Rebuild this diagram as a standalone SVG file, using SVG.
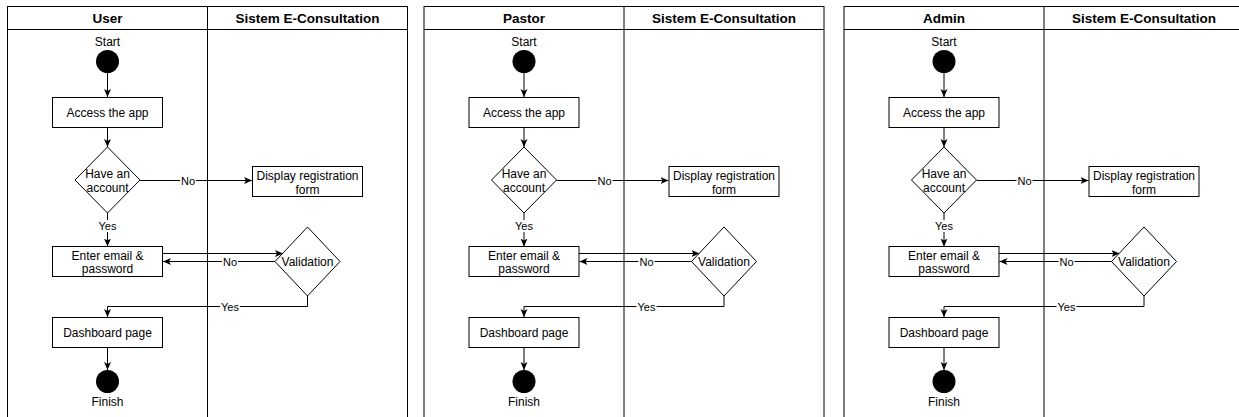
<svg xmlns="http://www.w3.org/2000/svg" width="1239" height="417" viewBox="0 0 1239 417">
<style>
.lane{fill:none;stroke:#000;stroke-width:1}
.box{fill:#fff;stroke:#000;stroke-width:1}
.dot{fill:#000;stroke:none}
.hd{font-family:"Liberation Sans",Arial,sans-serif;font-size:13.5px;font-weight:bold;fill:#000;text-anchor:middle}
.t{font-family:"Liberation Sans",Arial,sans-serif;font-size:12px;fill:#000;text-anchor:middle}
.lb{font-family:"Liberation Sans",Arial,sans-serif;font-size:11px;fill:#000;text-anchor:middle}
.e{fill:none;stroke:#000;stroke-width:1;marker-end:url(#arr)}
.bg{fill:#fff;stroke:none}
</style>
<defs>
<marker id="arr" markerUnits="userSpaceOnUse" markerWidth="10" markerHeight="10" refX="8" refY="4" orient="auto">
<path d="M0,0.5 L8,4 L0,7.5 L2,4 z" fill="#000"/>
</marker>
</defs>
<rect width="1239" height="417" fill="#fff"/>

<!-- Panel 1: User -->
<g transform="translate(0,0)">
<g id="user-lanes">
<rect class="lane" x="7.5" y="6.5" width="400" height="420"/>
<line class="lane" x1="7.5" y1="29.5" x2="407.5" y2="29.5"/>
<line class="lane" x1="207.5" y1="6.5" x2="207.5" y2="426"/>
<text class="hd" x="107.5" y="22.5">User</text>
<text class="hd" x="307.5" y="22.5">Sistem E-Consultation</text>
</g>
<g id="user-connectors">
<line class="e" x1="107.5" y1="73" x2="107.5" y2="97"/>
<line class="e" x1="107.5" y1="127" x2="107.5" y2="147"/>
<line class="e" x1="140" y1="180.5" x2="252" y2="180.5"/>
<rect class="bg" x="180" y="174" width="16" height="13"/>
<text class="lb" x="188" y="184.5">No</text>
<line class="e" x1="107.5" y1="213" x2="107.5" y2="246.5"/>
<rect class="bg" x="97" y="220" width="21" height="12"/>
<text class="lb" x="107.5" y="230">Yes</text>
<line class="e" x1="162.5" y1="253.5" x2="283" y2="253.5"/>
<line class="e" x1="275" y1="261.5" x2="163" y2="261.5"/>
<rect class="bg" x="222" y="255" width="16" height="13"/>
<text class="lb" x="230" y="265.5">No</text>
<polyline class="e" points="307.5,296 307.5,306.5 107.5,306.5 107.5,317"/>
<rect class="bg" x="220" y="300" width="20" height="13"/>
<text class="lb" x="230" y="310.5">Yes</text>
<line class="e" x1="107.5" y1="347.5" x2="107.5" y2="370"/>
</g>
<g id="user-start"><text class="t" x="107.5" y="46">Start</text><circle class="dot" cx="107.5" cy="61.5" r="11.5"/></g>
<g id="user-access"><rect class="box" x="52.5" y="97.5" width="110" height="30"/><text class="t" x="107.5" y="116.5">Access the app</text></g>
<g id="user-account"><polygon class="box" points="107.5,147 140,180 107.5,213 75,180"/><text class="t" x="107.5" y="177.5">Have an</text><text class="t" x="107.5" y="192">account</text></g>
<g id="user-register"><rect class="box" x="252.5" y="166.5" width="110" height="30"/><text class="t" x="307.5" y="179.5">Display registration</text><text class="t" x="307.5" y="193.5">form</text></g>
<g id="user-login"><rect class="box" x="52.5" y="246.5" width="110" height="30"/><text class="t" x="107.5" y="259.5">Enter email &amp;</text><text class="t" x="107.5" y="273">password</text></g>
<g id="user-validation"><polygon class="box" points="307.5,227 340,261.5 307.5,296 275,261.5"/><text class="t" x="307.5" y="266">Validation</text></g>
<g id="user-dashboard"><rect class="box" x="52.5" y="317.5" width="110" height="30"/><text class="t" x="107.5" y="337">Dashboard page</text></g>
<g id="user-finish"><circle class="dot" cx="107.5" cy="381.5" r="11.5"/><text class="t" x="107.5" y="406">Finish</text></g>
</g>

<!-- Panel 2: Pastor -->
<g transform="translate(416.5,0)">
<g id="pastor-lanes">
<rect class="lane" x="7.5" y="6.5" width="400" height="420"/>
<line class="lane" x1="7.5" y1="29.5" x2="407.5" y2="29.5"/>
<line class="lane" x1="207.5" y1="6.5" x2="207.5" y2="426"/>
<text class="hd" x="107.5" y="22.5">Pastor</text>
<text class="hd" x="307.5" y="22.5">Sistem E-Consultation</text>
</g>
<g id="pastor-connectors">
<line class="e" x1="107.5" y1="73" x2="107.5" y2="97"/>
<line class="e" x1="107.5" y1="127" x2="107.5" y2="147"/>
<line class="e" x1="140" y1="180.5" x2="252" y2="180.5"/>
<rect class="bg" x="180" y="174" width="16" height="13"/>
<text class="lb" x="188" y="184.5">No</text>
<line class="e" x1="107.5" y1="213" x2="107.5" y2="246.5"/>
<rect class="bg" x="97" y="220" width="21" height="12"/>
<text class="lb" x="107.5" y="230">Yes</text>
<line class="e" x1="162.5" y1="253.5" x2="283" y2="253.5"/>
<line class="e" x1="275" y1="261.5" x2="163" y2="261.5"/>
<rect class="bg" x="222" y="255" width="16" height="13"/>
<text class="lb" x="230" y="265.5">No</text>
<polyline class="e" points="307.5,296 307.5,306.5 107.5,306.5 107.5,317"/>
<rect class="bg" x="220" y="300" width="20" height="13"/>
<text class="lb" x="230" y="310.5">Yes</text>
<line class="e" x1="107.5" y1="347.5" x2="107.5" y2="370"/>
</g>
<g id="pastor-start"><text class="t" x="107.5" y="46">Start</text><circle class="dot" cx="107.5" cy="61.5" r="11.5"/></g>
<g id="pastor-access"><rect class="box" x="52.5" y="97.5" width="110" height="30"/><text class="t" x="107.5" y="116.5">Access the app</text></g>
<g id="pastor-account"><polygon class="box" points="107.5,147 140,180 107.5,213 75,180"/><text class="t" x="107.5" y="177.5">Have an</text><text class="t" x="107.5" y="192">account</text></g>
<g id="pastor-register"><rect class="box" x="252.5" y="166.5" width="110" height="30"/><text class="t" x="307.5" y="179.5">Display registration</text><text class="t" x="307.5" y="193.5">form</text></g>
<g id="pastor-login"><rect class="box" x="52.5" y="246.5" width="110" height="30"/><text class="t" x="107.5" y="259.5">Enter email &amp;</text><text class="t" x="107.5" y="273">password</text></g>
<g id="pastor-validation"><polygon class="box" points="307.5,227 340,261.5 307.5,296 275,261.5"/><text class="t" x="307.5" y="266">Validation</text></g>
<g id="pastor-dashboard"><rect class="box" x="52.5" y="317.5" width="110" height="30"/><text class="t" x="107.5" y="337">Dashboard page</text></g>
<g id="pastor-finish"><circle class="dot" cx="107.5" cy="381.5" r="11.5"/><text class="t" x="107.5" y="406">Finish</text></g>
</g>

<!-- Panel 3: Admin -->
<g transform="translate(836.5,0)">
<g id="admin-lanes">
<rect class="lane" x="7.5" y="6.5" width="400" height="420"/>
<line class="lane" x1="7.5" y1="29.5" x2="407.5" y2="29.5"/>
<line class="lane" x1="207.5" y1="6.5" x2="207.5" y2="426"/>
<text class="hd" x="107.5" y="22.5">Admin</text>
<text class="hd" x="307.5" y="22.5">Sistem E-Consultation</text>
</g>
<g id="admin-connectors">
<line class="e" x1="107.5" y1="73" x2="107.5" y2="97"/>
<line class="e" x1="107.5" y1="127" x2="107.5" y2="147"/>
<line class="e" x1="140" y1="180.5" x2="252" y2="180.5"/>
<rect class="bg" x="180" y="174" width="16" height="13"/>
<text class="lb" x="188" y="184.5">No</text>
<line class="e" x1="107.5" y1="213" x2="107.5" y2="246.5"/>
<rect class="bg" x="97" y="220" width="21" height="12"/>
<text class="lb" x="107.5" y="230">Yes</text>
<line class="e" x1="162.5" y1="253.5" x2="283" y2="253.5"/>
<line class="e" x1="275" y1="261.5" x2="163" y2="261.5"/>
<rect class="bg" x="222" y="255" width="16" height="13"/>
<text class="lb" x="230" y="265.5">No</text>
<polyline class="e" points="307.5,296 307.5,306.5 107.5,306.5 107.5,317"/>
<rect class="bg" x="220" y="300" width="20" height="13"/>
<text class="lb" x="230" y="310.5">Yes</text>
<line class="e" x1="107.5" y1="347.5" x2="107.5" y2="370"/>
</g>
<g id="admin-start"><text class="t" x="107.5" y="46">Start</text><circle class="dot" cx="107.5" cy="61.5" r="11.5"/></g>
<g id="admin-access"><rect class="box" x="52.5" y="97.5" width="110" height="30"/><text class="t" x="107.5" y="116.5">Access the app</text></g>
<g id="admin-account"><polygon class="box" points="107.5,147 140,180 107.5,213 75,180"/><text class="t" x="107.5" y="177.5">Have an</text><text class="t" x="107.5" y="192">account</text></g>
<g id="admin-register"><rect class="box" x="252.5" y="166.5" width="110" height="30"/><text class="t" x="307.5" y="179.5">Display registration</text><text class="t" x="307.5" y="193.5">form</text></g>
<g id="admin-login"><rect class="box" x="52.5" y="246.5" width="110" height="30"/><text class="t" x="107.5" y="259.5">Enter email &amp;</text><text class="t" x="107.5" y="273">password</text></g>
<g id="admin-validation"><polygon class="box" points="307.5,227 340,261.5 307.5,296 275,261.5"/><text class="t" x="307.5" y="266">Validation</text></g>
<g id="admin-dashboard"><rect class="box" x="52.5" y="317.5" width="110" height="30"/><text class="t" x="107.5" y="337">Dashboard page</text></g>
<g id="admin-finish"><circle class="dot" cx="107.5" cy="381.5" r="11.5"/><text class="t" x="107.5" y="406">Finish</text></g>
</g>
</svg>
